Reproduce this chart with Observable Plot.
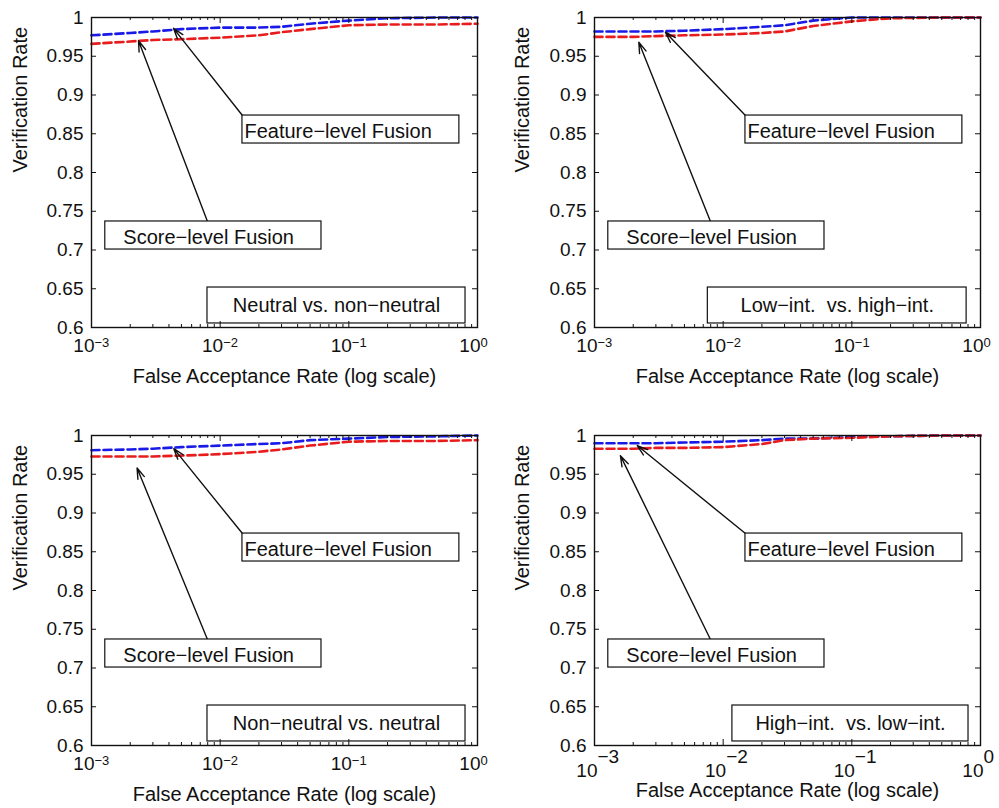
<!DOCTYPE html>
<html><head><meta charset="utf-8">
<script src="https://cdn.jsdelivr.net/npm/d3@7"></script>
<script src="https://cdn.jsdelivr.net/npm/@observablehq/plot@0.6"></script>
<style>
body{margin:0;background:#fff;}
#wrap{position:relative;width:999px;height:808px;overflow:hidden;background:#fff;}
.panel{position:absolute;}
svg text{white-space:pre;}
</style></head><body><div id="wrap"></div>
<script>
// ---- data ----
const far = [0.001, 0.002, 0.003, 0.005, 0.01, 0.02, 0.03, 0.05, 0.1, 0.2, 0.5, 1];
const conditions = ["Neutral vs. non−neutral", "Low−int.  vs. high−int.", "Non−neutral vs. neutral", "High−int.  vs. low−int."];
const featureNeutral   = [0.977, 0.980, 0.982, 0.985, 0.987, 0.987, 0.988, 0.992, 0.996, 0.999, 1.000, 1.000];
const scoreNeutral     = [0.966, 0.969, 0.971, 0.972, 0.974, 0.977, 0.981, 0.985, 0.990, 0.991, 0.991, 0.992];
const featureLowInt    = [0.982, 0.982, 0.982, 0.983, 0.985, 0.988, 0.990, 0.996, 1.000, 1.000, 1.000, 1.000];
const scoreLowInt      = [0.975, 0.975, 0.976, 0.977, 0.978, 0.980, 0.982, 0.989, 0.995, 0.999, 1.000, 1.000];
const featureNonNeutral= [0.981, 0.982, 0.983, 0.985, 0.987, 0.989, 0.990, 0.994, 0.996, 0.998, 0.999, 1.000];
const scoreNonNeutral  = [0.973, 0.973, 0.973, 0.974, 0.976, 0.979, 0.982, 0.987, 0.992, 0.993, 0.993, 0.994];
const featureHighInt   = [0.990, 0.990, 0.990, 0.991, 0.992, 0.994, 0.996, 0.996, 0.998, 0.999, 1.000, 1.000];
const scoreHighInt     = [0.983, 0.983, 0.984, 0.984, 0.985, 0.989, 0.994, 0.996, 0.997, 0.999, 1.000, 1.000];

const yTicks = [0.6, 0.65, 0.7, 0.75, 0.8, 0.85, 0.9, 0.95, 1];
const xMajor = [0.001, 0.01, 0.1, 1];
const xExp = ["−3", "−2", "−1", "0"];
const xMinor = [0.002,0.003,0.004,0.005,0.006,0.007,0.008,0.009,
                0.02,0.03,0.04,0.05,0.06,0.07,0.08,0.09,
                0.2,0.3,0.4,0.5,0.6,0.7,0.8,0.9];

// annotations (data coordinates)
const featureLabel = "Feature−level Fusion";
const scoreLabel = "Score−level Fusion";
const featHeadX = [0.00434, 0.00356, 0.00436, 0.00215];
const featHeadY = [0.986, 0.981, 0.983, 0.987];
const scoreHeadX = [0.00232, 0.00221, 0.00226, 0.00159];
const scoreHeadY = [0.970, 0.968, 0.958, 0.974];
const featBoxX = [0.0149, 0.723];
const featBoxY = [0.8374, 0.8735];
const scoreBoxX = [0.00128, 0.0613];
const scoreBoxY = [0.7006, 0.7368];
const scoreTailX = 0.00797;
const condBoxX1 = [0.00797, 0.0076, 0.00797, 0.0118];
const condBoxX2 = [0.807, 0.78, 0.807, 0.807];
const condBoxY = [0.6052, 0.6516];

const featureSeries = [featureNeutral, featureLowInt, featureNonNeutral, featureHighInt];
const scoreSeries = [scoreNeutral, scoreLowInt, scoreNonNeutral, scoreHighInt];

// ---- layout ----
const layout = [
  {left: 0,   top: 0,   height: 404, ml: 91, mr: 22, mt: 17, mb: 77, ylab: -71, xlabDy: 55, style: "small"},
  {left: 500, top: 0,   height: 404, ml: 94, mr: 19, mt: 17, mb: 77, ylab: -72, xlabDy: 55, style: "small"},
  {left: 0,   top: 418, height: 390, ml: 91, mr: 22, mt: 17, mb: 63, ylab: -71, xlabDy: 55, style: "small"},
  {left: 500, top: 418, height: 390, ml: 94, mr: 19, mt: 17, mb: 63, ylab: -72, xlabDy: 51, style: "big"}
];

const BLUE = "#1a1ae6", RED = "#e81c1c", INK = "#111";
const FONT = "'Liberation Sans', Arial, Helvetica, sans-serif";

const wrap = document.getElementById("wrap");
layout.forEach((L, p) => {
  const W = 499, H = L.height;
  const iw = W - L.ml - L.mr, ih = H - L.mt - L.mb;
  const feat = far.map((x, i) => ({x, y: featureSeries[p][i]}));
  const score = far.map((x, i) => ({x, y: scoreSeries[p][i]}));
  const arrows = [
    {x1: featBoxX[0], y1: featBoxY[1], x2: featHeadX[p], y2: featHeadY[p]},
    {x1: scoreTailX, y1: scoreBoxY[1], x2: scoreHeadX[p], y2: scoreHeadY[p]}
  ];
  const boxes = [
    {x1: featBoxX[0], x2: featBoxX[1], y1: featBoxY[0], y2: featBoxY[1]},
    {x1: scoreBoxX[0], x2: scoreBoxX[1], y1: scoreBoxY[0], y2: scoreBoxY[1]},
    {x1: condBoxX1[p], x2: condBoxX2[p], y1: condBoxY[0], y2: condBoxY[1]}
  ];
  const big = L.style === "big";
  const chart = Plot.plot({
    width: W, height: H,
    marginLeft: L.ml, marginRight: L.mr, marginTop: L.mt, marginBottom: L.mb,
    x: {type: "log", domain: [1e-3, 1], axis: null},
    y: {domain: [0.6, 1]},
    style: {fontFamily: FONT, background: "white", color: INK, overflow: "visible"},
    marks: [
      Plot.line(feat, {x: "x", y: "y", stroke: BLUE, strokeWidth: 2.6, strokeDasharray: "8,4"}),
      Plot.line(score, {x: "x", y: "y", stroke: RED, strokeWidth: 2.6, strokeDasharray: "8,4"}),
      Plot.arrow(arrows, {x1: "x1", y1: "y1", x2: "x2", y2: "y2", stroke: INK, strokeWidth: 1.4, headLength: 12, headAngle: 36}),
      Plot.rect(boxes, {x1: "x1", x2: "x2", y1: "y1", y2: "y2", fill: "white", stroke: INK, strokeWidth: 1.2}),
      Plot.text([featureLabel], {x: featBoxX[0], y: featBoxY[0], text: d => d, textAnchor: "start", lineAnchor: "bottom", dx: 2, dy: -6, fontSize: 20, fill: INK}),
      Plot.text([scoreLabel], {x: scoreBoxX[0], y: scoreBoxY[0], text: d => d, textAnchor: "start", lineAnchor: "bottom", dx: 18, dy: -6, fontSize: 20, fill: INK}),
      Plot.text([conditions[p]], {x: Math.sqrt(condBoxX1[p] * condBoxX2[p]), y: (condBoxY[0] + condBoxY[1]) / 2, text: d => d, textAnchor: "middle", lineAnchor: "middle", fontSize: 20, fill: INK}),
      Plot.frame({stroke: INK, strokeWidth: 1.4}),
      Plot.tickY(yTicks, {y: d => d, insetRight: iw - 5, stroke: INK}),
      Plot.tickY(yTicks, {y: d => d, insetLeft: iw - 5, stroke: INK}),
      Plot.tickX(xMajor, {x: d => d, insetTop: ih - 6, stroke: INK}),
      Plot.tickX(xMajor, {x: d => d, insetBottom: ih - 6, stroke: INK}),
      Plot.tickX(xMinor, {x: d => d, insetTop: ih - 3, stroke: INK}),
      Plot.tickX(xMinor, {x: d => d, insetBottom: ih - 3, stroke: INK}),
      Plot.axisY({ticks: yTicks, tickSize: 0, tickPadding: 8, fontSize: 19, tickFormat: d => String(d), label: null, fill: INK}),
      Plot.text(xMajor, {x: d => d, frameAnchor: "bottom", text: () => "10", textAnchor: "end", lineAnchor: "bottom", dx: 3, dy: big ? 31 : 24, fontSize: 19, fill: INK}),
      Plot.text(xMajor, {x: d => d, frameAnchor: "bottom", text: (d, i) => xExp[i], textAnchor: "start", lineAnchor: "bottom", dx: 3, dy: big ? 17 : 19, fontSize: big ? 19 : 13, fill: INK}),
      Plot.text(["False Acceptance Rate (log scale)"], {frameAnchor: "bottom", text: d => d, lineAnchor: "bottom", dy: L.xlabDy, fontSize: 20, fill: INK}),
      Plot.text(["Verification Rate"], {frameAnchor: "left", text: d => d, rotate: -90, dx: L.ylab, fontSize: 20, fill: INK})
    ]
  });
  const div = document.createElement("div");
  div.className = "panel";
  div.style.left = L.left + "px";
  div.style.top = L.top + "px";
  div.appendChild(chart);
  wrap.appendChild(div);
});
</script>
</body></html>
